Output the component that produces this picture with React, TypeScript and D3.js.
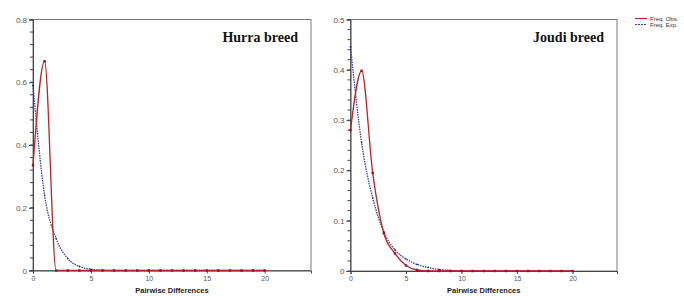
import React, { useRef, useEffect } from 'react'
import * as d3 from 'd3'

// pairwise differences (x) and frequencies
const pairwiseDiffs = [0, 1, 2, 3, 4, 5, 6, 7, 8, 9, 10, 11, 12, 13, 14, 15, 16, 17, 18, 19, 20]
const hurraObs = [0.335, 0.667, 0, 0, 0, 0, 0, 0, 0, 0, 0, 0, 0, 0, 0, 0, 0, 0, 0, 0, 0]
const hurraExp = [0.59, 0.24, 0.102, 0.038, 0.013, 0.004, 0.001, 0, 0, 0, 0, 0, 0, 0, 0, 0, 0, 0, 0, 0, 0]
const joudiObs = [0.28, 0.398, 0.195, 0.075, 0.035, 0.011, 0.002, 0, 0, 0, 0, 0, 0, 0, 0, 0, 0, 0, 0, 0, 0]
const joudiExp = [0.446, 0.255, 0.145, 0.078, 0.042, 0.024, 0.013, 0.007, 0.003, 0.001, 0, 0, 0, 0, 0, 0, 0, 0, 0, 0, 0]
const xTicks = [0, 5, 10, 15, 20]
const hurraYTicks = [0, 0.2, 0.4, 0.6, 0.8]
const joudiYTicks = [0, 0.1, 0.2, 0.3, 0.4, 0.5]
const legendLabels = ['Freq. Obs.', 'Freq. Exp.']

const OBS_COLOR = '#b3262a'
const EXP_COLOR = '#3b3d9c'

const Panel = ({ svgRef, left, right, top, bottom, yMax, yTicks, yMinorStep, obs, exp, title }) => {
  useEffect(() => {
    const g = d3.select(svgRef.current).append('g')

    const x = d3.scaleLinear().domain([0, 24]).range([left, right])
    const y = d3.scaleLinear().domain([0, yMax]).range([bottom, top])

    // frame
    g.append('rect')
      .attr('x', left)
      .attr('y', top)
      .attr('width', right - left)
      .attr('height', bottom - top)
      .attr('fill', 'none')
      .attr('stroke', '#7a7a7a')
      .attr('stroke-width', 1)

    // minor y ticks
    const minor = d3.range(0, yMax + 1e-9, yMinorStep)
    g.append('g')
      .selectAll('line')
      .data(minor)
      .enter()
      .append('line')
      .attr('x1', left - 3)
      .attr('x2', left)
      .attr('y1', d => y(d))
      .attr('y2', d => y(d))
      .attr('stroke', '#444')

    const yAxis = d3
      .axisLeft(y)
      .tickValues(yTicks)
      .tickSize(4)
      .tickFormat(d => (d === 0 ? '0' : d3.format('.1f')(d)))
    const yG = g.append('g').attr('transform', `translate(${left},0)`).call(yAxis)
    yG.select('.domain').attr('stroke', '#444')
    yG.selectAll('line').attr('stroke', '#444')
    yG.selectAll('text')
      .attr('font-family', 'Arial, Liberation Sans, sans-serif')
      .attr('font-size', 8)
      .attr('fill', '#555')
      .attr('dx', 1)

    const xAxis = d3.axisBottom(x).tickValues(xTicks).tickSize(3)
    const xG = g.append('g').attr('transform', `translate(0,${bottom})`).call(xAxis)
    xG.select('.domain').attr('stroke', '#444')
    xG.selectAll('line').attr('stroke', '#444')
    xG.selectAll('text')
      .attr('font-family', 'Arial, Liberation Sans, sans-serif')
      .attr('font-size', 7)
      .attr('fill', '#555')
      .attr('dy', '0.6em')

    g.append('text')
      .attr('x', (left + right) / 2)
      .attr('y', bottom + 22)
      .attr('text-anchor', 'middle')
      .attr('font-family', 'Arial, Liberation Sans, sans-serif')
      .attr('font-weight', 'bold')
      .attr('font-size', 7.5)
      .attr('fill', '#222')
      .text('Pairwise Differences')

    g.append('text')
      .attr('x', right - 13)
      .attr('y', top + 22.5)
      .attr('text-anchor', 'end')
      .attr('font-family', 'Liberation Serif, serif')
      .attr('font-weight', 'bold')
      .attr('font-size', 14)
      .attr('fill', '#111')
      .text(title)

    const line = d3
      .line()
      .x((d, i) => x(pairwiseDiffs[i]))
      .y(d => y(d))
      .curve(d3.curveMonotoneX)

    g.append('path')
      .attr('d', line(exp))
      .attr('fill', 'none')
      .attr('stroke', EXP_COLOR)
      .attr('stroke-width', 1.3)
      .attr('stroke-dasharray', '1.5,1')

    g.append('path')
      .attr('d', line(obs))
      .attr('fill', 'none')
      .attr('stroke', OBS_COLOR)
      .attr('stroke-width', 1.3)

    g.append('g')
      .selectAll('circle')
      .data(exp)
      .enter()
      .append('circle')
      .attr('cx', (d, i) => x(pairwiseDiffs[i]))
      .attr('cy', d => y(d))
      .attr('r', 0.8)
      .attr('fill', '#1c1c5a')

    g.append('g')
      .selectAll('rect')
      .data(obs)
      .enter()
      .append('rect')
      .attr('x', (d, i) => x(pairwiseDiffs[i]) - 1.2)
      .attr('y', d => y(d) - 1.2)
      .attr('width', 2.4)
      .attr('height', 2.4)
      .attr('fill', '#8e1a1e')

    return () => {
      g.remove()
    }
  }, [])
  return null
}

const Legend = ({ svgRef }) => {
  useEffect(() => {
    const g = d3.select(svgRef.current).append('g').attr('transform', 'translate(635,18.5)')
    const row = g
      .selectAll('g')
      .data(legendLabels)
      .enter()
      .append('g')
      .attr('transform', (d, i) => `translate(0,${i * 6})`)
    row
      .append('line')
      .attr('x1', 0)
      .attr('x2', 12)
      .attr('stroke', (d, i) => (i === 0 ? OBS_COLOR : EXP_COLOR))
      .attr('stroke-width', 1.2)
      .attr('stroke-dasharray', (d, i) => (i === 0 ? null : '2,1'))
    row
      .append('text')
      .attr('x', 15)
      .attr('dy', '0.35em')
      .attr('font-family', 'Arial, Liberation Sans, sans-serif')
      .attr('font-size', 6)
      .attr('fill', '#333')
      .text(d => d)
    return () => {
      g.remove()
    }
  }, [])
  return null
}

export default function App() {
  const svgRef = useRef(null)
  return (
    <>
      <svg
        ref={svgRef}
        width={684}
        height={296}
        style={{ position: 'absolute', left: 0, top: 0, background: '#fff' }}
      />
      <Panel
        svgRef={svgRef}
        left={33}
        right={311}
        top={19.5}
        bottom={270.5}
        yMax={0.8}
        yTicks={hurraYTicks}
        yMinorStep={0.04}
        obs={hurraObs}
        exp={hurraExp}
        title="Hurra breed"
      />
      <Panel
        svgRef={svgRef}
        left={350.5}
        right={617}
        top={19.5}
        bottom={271}
        yMax={0.5}
        yTicks={joudiYTicks}
        yMinorStep={0.02}
        obs={joudiObs}
        exp={joudiExp}
        title="Joudi breed"
      />
      <Legend svgRef={svgRef} />
    </>
  )
}
